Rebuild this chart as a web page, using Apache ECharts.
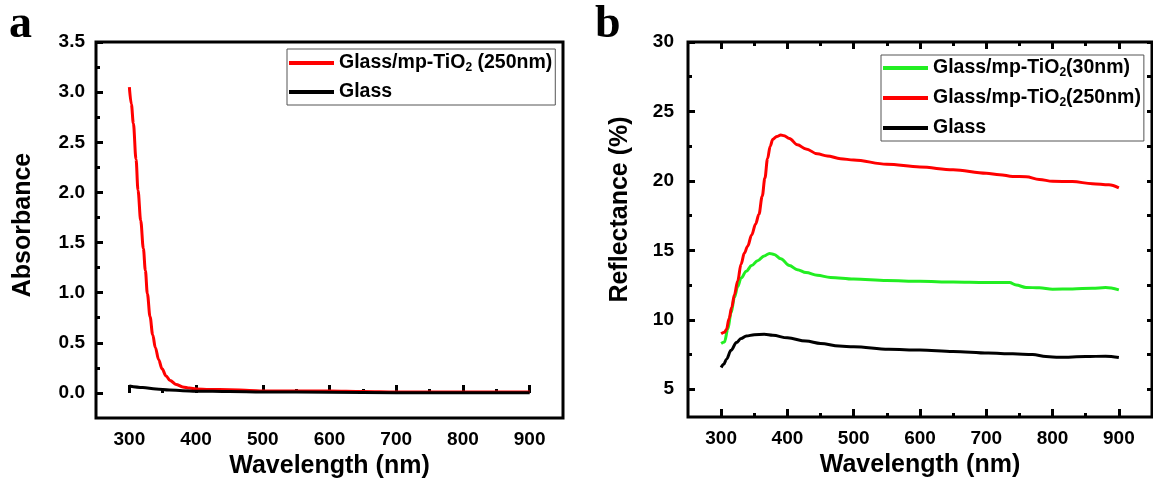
<!DOCTYPE html>
<html>
<head>
<meta charset="utf-8">
<script src="https://cdn.jsdelivr.net/npm/echarts@6/dist/echarts.min.js"></script>
<style>
html,body{margin:0;padding:0;background:#fff;}
#chart{width:1153px;height:492px;}
</style>
</head>
<body>
<div id="chart"></div>
<script>
// ---------- Panel a : Absorbance ----------
const aRedWave = [300,303,306,310,313,317,321,324,327,331,335,339,344,349,355,361,370,380,390,400,420,450,480,500,550,600,650,700,800,900];
const aRedVal  = [3.05,2.88,2.69,2.33,2.02,1.72,1.44,1.22,0.99,0.76,0.58,0.45,0.33,0.24,0.17,0.125,0.085,0.06,0.048,0.04,0.035,0.032,0.025,0.02,0.02,0.02,0.015,0.01,0.01,0.01];
const aGlassWave = [300,320,340,360,380,400,450,500,600,700,800,900];
const aGlassVal  = [0.07,0.055,0.04,0.03,0.022,0.018,0.014,0.01,0.008,0.003,0.002,0.002];

// ---------- Panel b : Reflectance ----------
const bRedWave = [300,305,308,312,316,320,325,330,335,340,346,352,357,362,366,370,374,378,384,390,395,403,415,428,445,460,480,500,550,600,650,700,720,740,760,780,800,830,860,885,900];
const bRedVal  = [9.0,9.1,9.3,10.1,10.9,11.8,12.8,14.0,14.8,15.3,16.1,16.9,17.6,18.9,20.2,21.6,22.5,23.0,23.2,23.3,23.25,23.05,22.6,22.3,21.95,21.8,21.6,21.5,21.2,21.0,20.8,20.55,20.45,20.32,20.3,20.1,19.97,19.95,19.8,19.72,19.5];
const bGreenWave = [300,305,310,315,320,325,330,338,346,355,365,373,380,390,403,415,428,445,465,500,550,600,650,700,735,745,760,780,800,830,860,880,900];
const bGreenVal  = [8.3,8.4,9.3,10.5,11.6,12.4,13.0,13.5,13.9,14.25,14.6,14.78,14.7,14.4,13.9,13.6,13.4,13.2,13.05,12.93,12.83,12.77,12.72,12.68,12.68,12.5,12.33,12.3,12.2,12.22,12.27,12.32,12.15];
const bGlassWave = [300,304,308,315,323,330,338,350,365,378,400,428,450,478,500,553,600,650,703,740,770,790,810,850,880,900];
const bGlassVal  = [6.56,6.8,7.16,7.8,8.36,8.65,8.83,8.93,8.95,8.88,8.7,8.47,8.3,8.11,8.05,7.87,7.82,7.72,7.6,7.55,7.5,7.35,7.3,7.35,7.38,7.28];

// ---------- Ticks ----------
const xMajor = [300,400,500,600,700,800,900];
const xMinor = [350,450,550,650,750,850];
const aYMajor = [0,0.5,1.0,1.5,2.0,2.5,3.0,3.5];
const aYMinor = [0.25,0.75,1.25,1.75,2.25,2.75,3.25];
const bYMajor = [5,10,15,20,25,30];
const bYMinor = [7.5,12.5,17.5,22.5,27.5];

const names = {
  a250: 'Glass/mp-TiO2 (250nm)',
  glass: 'Glass',
  b30: 'Glass/mp-TiO2(30nm)',
  b250: 'Glass/mp-TiO2(250nm)'
};

function zip(xs, ys){ return xs.map((x,i)=>[x, ys[i]]); }

const FONT = 'Liberation Sans, Arial, sans-serif';
const labelStyle = {fontFamily: FONT, fontWeight: 'bold', fontSize: 19, color: '#000'};
const nameStyle = {fontFamily: FONT, fontWeight: 'bold', fontSize: 25, color: '#000'};

function xAxes(grid, withTopTicks){
  const base = {gridIndex: grid, type: 'value', min: 250, max: 950, splitLine: {show: false}, axisLine: {show: false}};
  const list = [
    Object.assign({}, base, {
      position: 'bottom',
      name: 'Wavelength (nm)', nameLocation: 'middle', nameGap: 34, nameTextStyle: nameStyle,
      axisTick: {show: true, inside: true, length: 8, customValues: xMajor, lineStyle: {color: '#000', width: 3}},
      axisLabel: Object.assign({show: true, margin: 12, customValues: xMajor}, labelStyle)
    }),
    Object.assign({}, base, {
      position: 'bottom',
      axisTick: {show: true, inside: true, length: 4, customValues: xMinor, lineStyle: {color: '#000', width: 3}},
      axisLabel: {show: false}
    })
  ];
  if (withTopTicks){
    list.push(Object.assign({}, base, {
      position: 'top',
      axisTick: {show: true, inside: true, length: 7, customValues: xMajor, lineStyle: {color: '#000', width: 3}},
      axisLabel: {show: false}
    }));
    list.push(Object.assign({}, base, {
      position: 'top',
      axisTick: {show: true, inside: true, length: 4, customValues: xMinor, lineStyle: {color: '#000', width: 3}},
      axisLabel: {show: false}
    }));
  }
  return list;
}

function yAxes(grid, min, max, major, minor, title, gap, margin, fmt, rightTicks, namePad){
  const base = {gridIndex: grid, type: 'value', min: min, max: max, splitLine: {show: false}, axisLine: {show: false}};
  const list = [
    Object.assign({}, base, {
      position: 'left',
      name: title, nameLocation: 'middle', nameGap: gap,
      nameTextStyle: Object.assign({padding: namePad}, nameStyle),
      axisTick: {show: true, inside: true, length: 7, customValues: major, lineStyle: {color: '#000', width: 3}},
      axisLabel: Object.assign({show: true, margin: margin, customValues: major, formatter: fmt}, labelStyle)
    }),
    Object.assign({}, base, {
      position: 'left',
      axisTick: {show: true, inside: true, length: 4, customValues: minor, lineStyle: {color: '#000', width: 3}},
      axisLabel: {show: false}
    })
  ];
  if (rightTicks){
    list.push(Object.assign({}, base, {
      position: 'right',
      axisTick: {show: true, inside: true, length: 5, customValues: major.concat(minor), lineStyle: {color: '#000', width: 3}},
      axisLabel: {show: false}
    }));
  }
  return list;
}

const xA = xAxes(0, false);
const xB = xAxes(1, true);
const yA = yAxes(0, -0.25, 3.5, aYMajor, aYMinor, 'Absorbance', 60, 11, v => v.toFixed(1), false, [0,0,0,10]);
const yB = yAxes(1, 3, 30, bYMajor, bYMinor, 'Reflectance (%)', 55, 14, v => String(v), true, [0,0,0,40]);

const xAxisAll = xA.concat(xB);
const yAxisAll = yA.concat(yB);
const xBIdx = xA.length;
const yBIdx = yA.length;

function line(name, data, color, xi, yi){
  return {
    name: name, type: 'line', data: data, xAxisIndex: xi, yAxisIndex: yi,
    showSymbol: false, symbol: 'none', smooth: 0.35, smoothMonotone: 'x',
    lineStyle: {color: color, width: 3}, itemStyle: {color: color}, z: 3
  };
}

const legendText = {
  fontFamily: FONT, fontWeight: 'bold', fontSize: 19.5, color: '#000',
  rich: {
    sub: {fontFamily: FONT, fontWeight: 'bold', fontSize: 12, color: '#000', padding: [10, 0, 0, 0]}
  }
};
const legendFmt = n => n.replace('TiO2', 'TiO{sub|2}');

const option = {
  animation: false,
  backgroundColor: '#fff',
  grid: [
    {left: 96, top: 42, width: 467, height: 376, show: true, borderColor: '#000', borderWidth: 3, backgroundColor: 'transparent'},
    {left: 688, top: 42, width: 464, height: 375, show: true, borderColor: '#000', borderWidth: 3, backgroundColor: 'transparent'}
  ],
  xAxis: xAxisAll,
  yAxis: yAxisAll,
  legend: [
    {
      data: [names.a250, names.glass],
      orient: 'vertical', left: 287, top: 49,
      icon: 'rect', itemWidth: 45, itemHeight: 4, itemGap: 8,
      padding: [4, 3, 3, 2],
      borderColor: '#555', borderWidth: 1,
      textStyle: legendText, formatter: legendFmt
    },
    {
      data: [names.b30, names.b250, names.glass],
      orient: 'vertical', left: 881, top: 55,
      icon: 'rect', itemWidth: 45, itemHeight: 4, itemGap: 9,
      padding: [3, 3, 3, 2],
      borderColor: '#555', borderWidth: 1,
      textStyle: legendText, formatter: legendFmt
    }
  ],
  series: [
    line(names.a250, zip(aRedWave, aRedVal), '#ff0000', 0, 0),
    line(names.glass, zip(aGlassWave, aGlassVal), '#000000', 0, 0),
    line(names.b30, zip(bGreenWave, bGreenVal), '#22ee22', xBIdx, yBIdx),
    line(names.b250, zip(bRedWave, bRedVal), '#ff0000', xBIdx, yBIdx),
    line(names.glass, zip(bGlassWave, bGlassVal), '#000000', xBIdx, yBIdx)
  ],
  graphic: [
    {type: 'text', left: 9, top: 2, style: {text: 'a', font: 'bold 46px "Liberation Serif", "Times New Roman", serif', fill: '#000'}},
    {type: 'text', left: 595, top: 2, style: {text: 'b', font: 'bold 46px "Liberation Serif", "Times New Roman", serif', fill: '#000'}}
  ]
};

const chart = echarts.init(document.getElementById('chart'), null, {renderer: 'canvas'});
chart.setOption(option);
</script>
</body>
</html>
